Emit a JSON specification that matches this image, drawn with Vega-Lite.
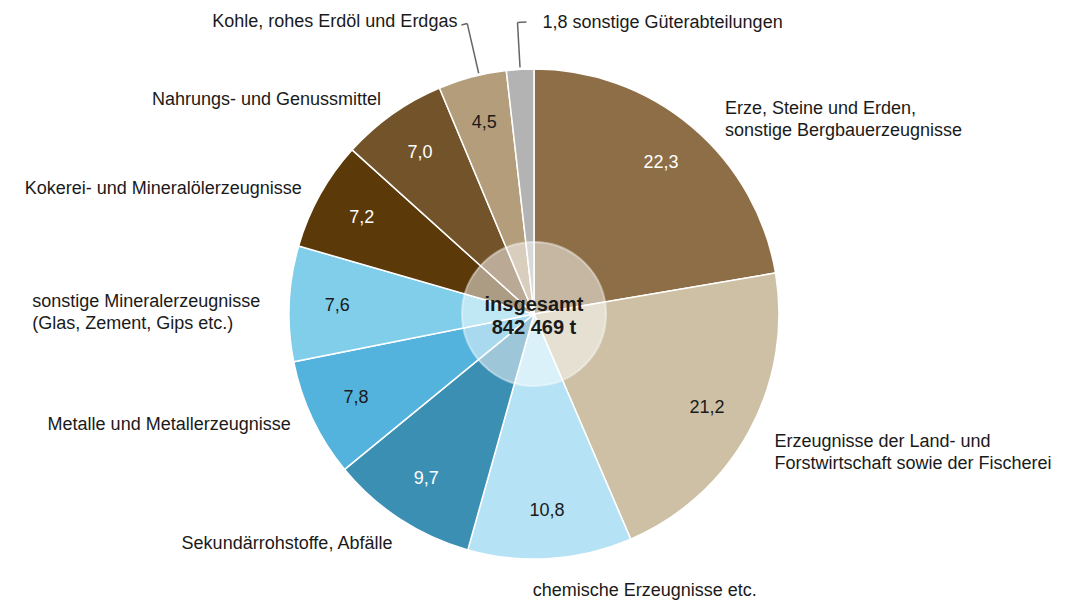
{
  "$schema": "https://vega.github.io/schema/vega-lite/v6.json",
  "width": 1060,
  "height": 576,
  "autosize": {"type": "none"},
  "padding": {"left": 4, "top": 26, "right": 1, "bottom": 0},
  "background": "white",
  "config": {
    "view": {"stroke": null},
    "text": {"font": "Liberation Sans", "fontSize": 18, "color": "#1a1a1a", "baseline": "middle", "lineHeight": 22}
  },
  "datasets": {
    "gueter": [
      {"nr": 1, "kat": ["Erze, Steine und Erden,", "sonstige Bergbauerzeugnisse"], "wert": 22.3, "anzeige": "22,3"},
      {"nr": 2, "kat": ["Erzeugnisse der Land- und", "Forstwirtschaft sowie der Fischerei"], "wert": 21.2, "anzeige": "21,2"},
      {"nr": 3, "kat": "chemische Erzeugnisse etc.", "wert": 10.8, "anzeige": "10,8"},
      {"nr": 4, "kat": "Sekundärrohstoffe, Abfälle", "wert": 9.7, "anzeige": "9,7"},
      {"nr": 5, "kat": "Metalle und Metallerzeugnisse", "wert": 7.8, "anzeige": "7,8"},
      {"nr": 6, "kat": ["sonstige Mineralerzeugnisse", "(Glas, Zement, Gips etc.)"], "wert": 7.6, "anzeige": "7,6"},
      {"nr": 7, "kat": "Kokerei- und Mineralölerzeugnisse", "wert": 7.2, "anzeige": "7,2"},
      {"nr": 8, "kat": "Nahrungs- und Genussmittel", "wert": 7.0, "anzeige": "7,0"},
      {"nr": 9, "kat": "Kohle, rohes Erdöl und Erdgas", "wert": 4.5, "anzeige": "4,5"},
      {"nr": 10, "kat": "1,8 sonstige Güterabteilungen", "wert": 1.8, "anzeige": "1,8"}
    ],
    "gesamt": [{"text": ["insgesamt", "842 469 t"]}]
  },
  "layer": [
    {
      "data": {"name": "gueter"},
      "transform": [
        {"stack": "wert", "groupby": [], "sort": [{"field": "nr", "order": "ascending"}], "as": ["v0", "v1"]},
        {"calculate": "(datum.v0 + datum.v1) / 2", "as": "mid"},
        {"calculate": "datum.nr == 9 ? datum.mid + 0.46 : datum.mid", "as": "leiter"},
        {"calculate": "datum.nr == 9 ? datum.leiter - 0.32 : datum.leiter + 0.49", "as": "tickEnde"}
      ],
      "layer": [
        {
          "mark": {"type": "arc", "outerRadius": 245, "stroke": "white", "strokeWidth": 1.5},
          "encoding": {
            "theta": {"field": "v0", "type": "quantitative", "scale": {"domain": [0, 99.9], "zero": true, "nice": false}},
            "theta2": {"field": "v1"},
            "color": {
              "field": "nr", "type": "nominal", "legend": null,
              "scale": {
                "domain": [1, 2, 3, 4, 5, 6, 7, 8, 9, 10],
                "range": ["#8D6E46", "#CDC0A5", "#B5E2F4", "#3B8FB3", "#53B3DD", "#80CEE9", "#5B3909", "#73532A", "#B39D7A", "#B3B3B3"]
              }
            }
          }
        },
        {
          "transform": [{"filter": "datum.nr <= 9"}],
          "mark": {"type": "text", "radius": 197, "align": "center", "fontSize": 18},
          "encoding": {
            "theta": {"field": "mid", "type": "quantitative"},
            "text": {"field": "anzeige", "type": "nominal"},
            "color": {"condition": {"test": "indexof([1, 4, 7, 8], datum.nr) >= 0", "value": "white"}, "value": "#1a1a1a"}
          }
        },
        {
          "transform": [{"filter": "datum.nr == 1"}],
          "mark": {"type": "text", "radius": 268, "align": "left", "dx": 18, "dy": 0},
          "encoding": {"theta": {"field": "mid", "type": "quantitative"}, "text": {"field": "kat", "type": "nominal"}}
        },
        {
          "transform": [{"filter": "datum.nr == 2"}],
          "mark": {"type": "text", "radius": 268, "align": "left", "dx": 5, "dy": 0},
          "encoding": {"theta": {"field": "mid", "type": "quantitative"}, "text": {"field": "kat", "type": "nominal"}}
        },
        {
          "transform": [{"filter": "datum.nr == 3"}],
          "mark": {"type": "text", "radius": 268, "align": "left", "dx": -19, "dy": 10},
          "encoding": {"theta": {"field": "mid", "type": "quantitative"}, "text": {"field": "kat", "type": "nominal"}}
        },
        {
          "transform": [{"filter": "datum.nr == 4"}],
          "mark": {"type": "text", "radius": 268, "align": "right", "dx": 5, "dy": 6},
          "encoding": {"theta": {"field": "mid", "type": "quantitative"}, "text": {"field": "kat", "type": "nominal"}}
        },
        {
          "transform": [{"filter": "datum.nr == 7 || datum.nr == 8"}],
          "mark": {"type": "text", "radius": 268, "align": "right", "dx": 2, "dy": 5},
          "encoding": {"theta": {"field": "mid", "type": "quantitative"}, "text": {"field": "kat", "type": "nominal"}}
        },
        {
          "transform": [{"filter": "datum.nr == 5"}],
          "mark": {"type": "text", "radius": 268, "align": "right", "dx": -1, "dy": -4},
          "encoding": {"theta": {"field": "mid", "type": "quantitative"}, "text": {"field": "kat", "type": "nominal"}}
        },
        {
          "transform": [{"filter": "datum.nr == 6"}],
          "mark": {"type": "text", "radius": 268, "align": "left", "dx": -234, "dy": -1},
          "encoding": {"theta": {"field": "mid", "type": "quantitative"}, "text": {"field": "kat", "type": "nominal"}}
        },
        {
          "transform": [{"filter": "datum.nr == 9"}],
          "mark": {"type": "text", "radius": 300, "align": "right", "dx": -1, "dy": -1.5},
          "encoding": {"theta": {"field": "mid", "type": "quantitative"}, "text": {"field": "kat", "type": "nominal"}}
        },
        {
          "transform": [{"filter": "datum.nr == 10"}],
          "mark": {"type": "text", "radius": 292, "align": "left", "dx": 25, "dy": 1},
          "encoding": {"theta": {"field": "mid", "type": "quantitative"}, "text": {"field": "kat", "type": "nominal"}}
        },
        {
          "transform": [{"filter": "datum.nr == 9"}],
          "mark": {"type": "arc", "innerRadius": 247, "outerRadius": 298, "filled": false, "stroke": "#666666", "strokeWidth": 1.5},
          "encoding": {"theta": {"field": "leiter", "type": "quantitative"}, "theta2": {"field": "leiter"}}
        },
        {
          "transform": [{"filter": "datum.nr == 10"}],
          "mark": {"type": "arc", "innerRadius": 247, "outerRadius": 292, "filled": false, "stroke": "#666666", "strokeWidth": 1.5},
          "encoding": {"theta": {"field": "leiter", "type": "quantitative"}, "theta2": {"field": "leiter"}}
        },
        {
          "transform": [{"filter": "datum.nr == 9"}],
          "mark": {"type": "arc", "innerRadius": 298, "outerRadius": 298, "filled": false, "stroke": "#666666", "strokeWidth": 1.5},
          "encoding": {"theta": {"field": "tickEnde", "type": "quantitative"}, "theta2": {"field": "leiter"}}
        },
        {
          "transform": [{"filter": "datum.nr == 10"}],
          "mark": {"type": "arc", "innerRadius": 292, "outerRadius": 292, "filled": false, "stroke": "#666666", "strokeWidth": 1.5},
          "encoding": {"theta": {"field": "leiter", "type": "quantitative"}, "theta2": {"field": "tickEnde"}}
        }
      ]
    },
    {
      "data": {"name": "gesamt"},
      "layer": [
        {
          "mark": {"type": "arc", "theta": 0, "theta2": 6.2832, "outerRadius": 72, "fill": "white", "fillOpacity": 0.5, "stroke": "white", "strokeOpacity": 0.45, "strokeWidth": 2},
          "encoding": {}
        },
        {
          "mark": {"type": "text", "align": "center", "fontSize": 20, "fontWeight": "bold", "lineHeight": 23, "dy": -9, "color": "#1a1a1a"},
          "encoding": {"text": {"field": "text", "type": "nominal"}}
        }
      ]
    }
  ]
}
